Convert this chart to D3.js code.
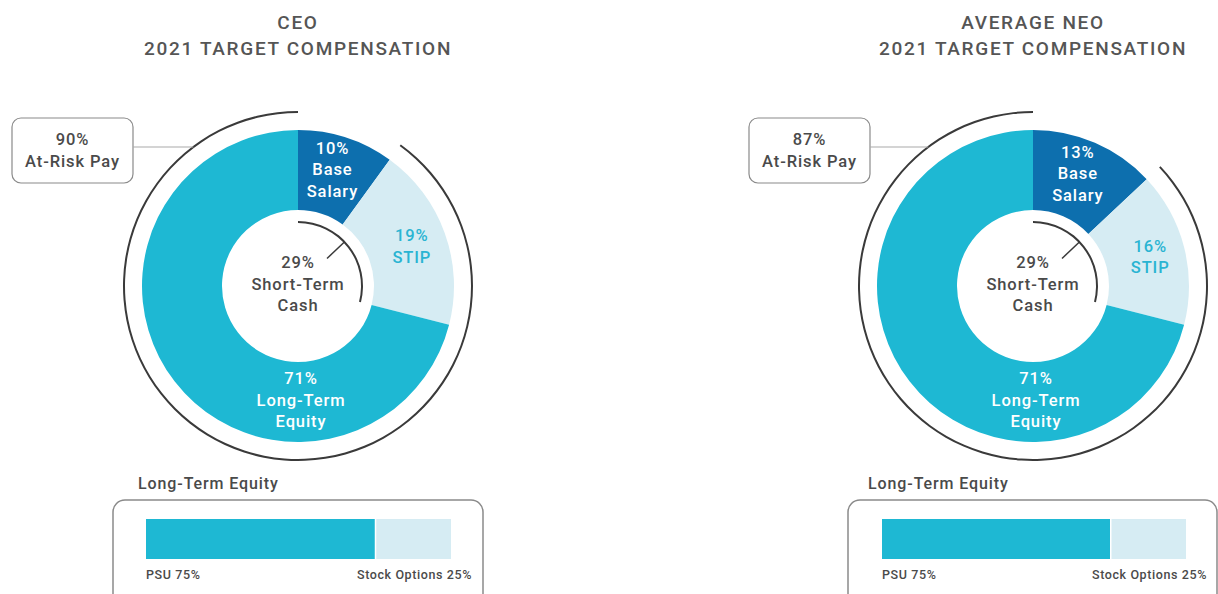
<!DOCTYPE html>
<html>
<head>
<meta charset="utf-8">
<script src="https://cdn.jsdelivr.net/npm/d3@7"></script>
<style>
  html, body { margin: 0; padding: 0; background: #fff; }
  svg { display: block; }
  text { font-family: Roboto, "DejaVu Sans", sans-serif; }
</style>
</head>
<body>
<svg id="chart" width="1218" height="594"></svg>
<script>
// Pay mix data
const panelNames = ["CEO", "AVERAGE NEO"];
const panelSubtitle = "2021 TARGET COMPENSATION";
const segmentNames = ["Base Salary", "STIP", "Long-Term Equity"];
const ceoShares = [10, 19, 71];
const neoShares = [13, 16, 71];
const atRiskPay = [90, 87];
const shortTermCash = [29, 29];
const equityParts = ["PSU", "Stock Options"];
const equityShares = [75, 25];

const colors = {
  base: "#0d6fae",
  stip: "#d6ecf3",
  lte: "#1eb8d3",
  stipText: "#2ab4d2",
  ink: "#4a4a4a",
  ring: "#3a3a3a",
  frame: "#8a8a8a"
};
const segColors = [colors.base, colors.stip, colors.lte];

const svg = d3.select("#chart");
const TAU = Math.PI * 2;
const pct = d3.scaleLinear().domain([0, 100]).range([0, TAU]);

function drawPanel(i, cx, shares, opts) {
  const g = svg.append("g");
  const cy = 286;
  const rIn = 76, rOut = 156;

  // title
  const title = g.append("text")
    .attr("x", cx).attr("text-anchor", "middle")
    .attr("fill", "#555").attr("font-size", 19).attr("font-weight", 500)
    .attr("letter-spacing", 1.7);
  title.append("tspan").attr("x", cx).attr("y", 29).text(panelNames[i]);
  title.append("tspan").attr("x", cx).attr("y", 55).text(panelSubtitle);

  const dg = g.append("g").attr("transform", `translate(${cx},${cy})`);

  const pie = d3.pie().sort(null).value(d => d);
  const arcs = pie(shares);
  const arc = d3.arc().innerRadius(rIn).outerRadius(rOut);

  dg.selectAll("path.seg").data(arcs).join("path")
    .attr("class", "seg")
    .attr("d", arc)
    .attr("fill", (d, k) => segColors[k]);

  // outer ring for at-risk pay
  const ringArc = d3.arc().innerRadius(173).outerRadius(175)
    .startAngle(pct(100 - atRiskPay[i])).endAngle(TAU);
  dg.append("path").attr("d", ringArc()).attr("fill", colors.ring);

  // inner arc for short-term cash
  const stArc = d3.arc().innerRadius(63).outerRadius(65)
    .startAngle(0).endAngle(pct(shortTermCash[i]));
  dg.append("path").attr("d", stArc()).attr("fill", colors.ring);
  const midA = pct(shortTermCash[i]) / 2 - 0.1;
  dg.append("line")
    .attr("x1", Math.sin(midA) * 64).attr("y1", -Math.cos(midA) * 64)
    .attr("x2", Math.sin(midA) * 40).attr("y2", -Math.cos(midA) * 40)
    .attr("stroke", colors.ring).attr("stroke-width", 1.5);

  // multi-line label helper
  function label(x, y, lines, fill) {
    const t = dg.append("text").attr("text-anchor", "middle")
      .attr("fill", fill).attr("font-size", 16.5).attr("font-weight", 500)
      .attr("letter-spacing", 0.9);
    lines.forEach((s, k) => {
      t.append("tspan").attr("x", x).attr("y", y + k * 21.5).text(s);
    });
  }
  const centroidAt = (d, r) => {
    const a = (d.startAngle + d.endAngle) / 2;
    return [Math.sin(a) * r, -Math.cos(a) * r];
  };

  const [bx, by] = centroidAt(arcs[0], 118);
  label(bx - 2, by - 20, [`${shares[0]}%`, "Base", "Salary"], "#fff");
  const [sx, sy] = centroidAt(arcs[1], 121);
  label(sx, sy - 4, [`${shares[1]}%`, "STIP"], colors.stipText);
  label(3, 98, [`${shares[2]}%`, "Long-Term", "Equity"], "#fff");
  label(0, -18, [`${shortTermCash[i]}%`, "Short-Term", "Cash"], colors.ink);

  // at-risk callout box
  const bxL = opts.boxX, bW = 121, bTop = 118, bH = 65;
  g.append("rect").attr("x", bxL).attr("y", bTop).attr("width", bW).attr("height", bH)
    .attr("rx", 9).attr("fill", "#fff").attr("stroke", colors.frame).attr("stroke-width", 1.2);
  const ly = 147;
  const ringX = cx - Math.sqrt(174 * 174 - (cy - ly) * (cy - ly));
  g.append("line").attr("x1", bxL + bW).attr("x2", ringX).attr("y1", ly).attr("y2", ly)
    .attr("stroke", "#aaa").attr("stroke-width", 1.2);
  const bt = g.append("text").attr("text-anchor", "middle").attr("fill", colors.ink)
    .attr("font-size", 16.5).attr("font-weight", 500).attr("letter-spacing", 0.9);
  bt.append("tspan").attr("x", bxL + bW / 2).attr("y", 145).text(`${atRiskPay[i]}%`);
  bt.append("tspan").attr("x", bxL + bW / 2).attr("y", 167).text("At-Risk Pay");

  // long-term equity split
  g.append("text").attr("x", opts.eqX).attr("y", 489)
    .attr("fill", colors.ink).attr("font-size", 16).attr("font-weight", 500)
    .attr("letter-spacing", 0.9).text("Long-Term Equity");
  g.append("rect").attr("x", opts.frameX).attr("y", 500).attr("width", opts.frameW).attr("height", 110)
    .attr("rx", 12).attr("fill", "none").attr("stroke", colors.frame).attr("stroke-width", 1.5);

  const bar = d3.scaleLinear().domain([0, 100]).range([opts.barX0, opts.barX1]);
  const stack = d3.stack().keys(equityParts)([Object.fromEntries(equityParts.map((k, n) => [k, equityShares[n]]))]);
  g.selectAll("rect.eq").data(stack).join("rect")
    .attr("class", "eq")
    .attr("x", (s, k) => bar(s[0][0]) + (k ? 1.5 : 0))
    .attr("width", (s, k) => bar(s[0][1]) - bar(s[0][0]) - (k ? 1.5 : 0))
    .attr("y", 519).attr("height", 40)
    .attr("fill", (s, k) => k ? colors.stip : colors.lte);

  g.append("text").attr("x", opts.barX0).attr("y", 579)
    .attr("fill", colors.ink).attr("font-size", 12.5).attr("font-weight", 500)
    .attr("letter-spacing", 0.6)
    .text(`${equityParts[0]} ${equityShares[0]}%`);
  g.append("text").attr("x", opts.lblRight).attr("y", 579).attr("text-anchor", "end")
    .attr("fill", colors.ink).attr("font-size", 12.5).attr("font-weight", 500)
    .attr("letter-spacing", 0.6)
    .text(`${equityParts[1]} ${equityShares[1]}%`);
}

drawPanel(0, 298, ceoShares, { boxX: 12, eqX: 138, frameX: 113, frameW: 370, barX0: 146, barX1: 451, lblRight: 472 });
drawPanel(1, 1033, neoShares, { boxX: 749, eqX: 868, frameX: 848, frameW: 369, barX0: 882, barX1: 1186, lblRight: 1207 });
</script>
</body>
</html>
